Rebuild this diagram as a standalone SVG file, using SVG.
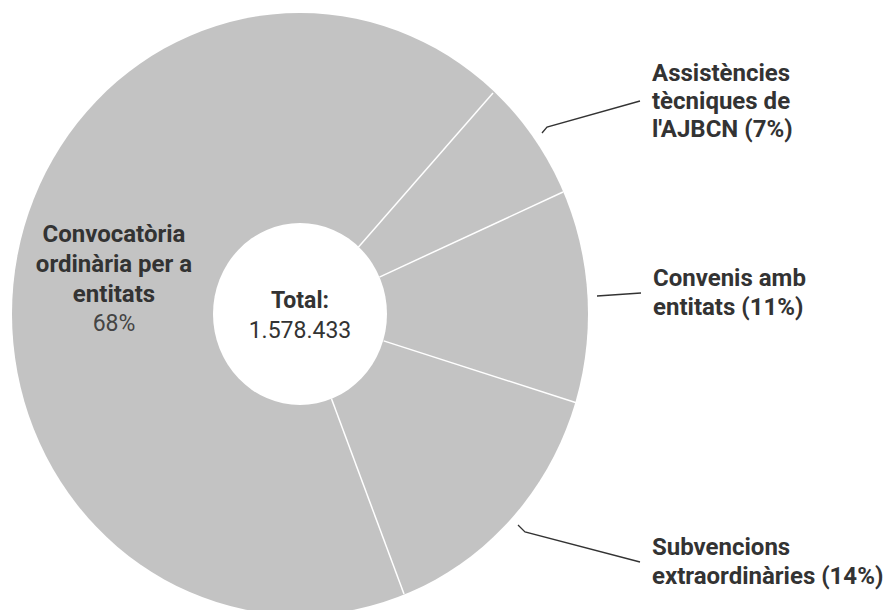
<svg xmlns="http://www.w3.org/2000/svg" width="890" height="610" viewBox="0 0 890 610">
<style>
.lbl{font-family:Roboto,"Liberation Sans",sans-serif;font-size:23px;fill:#333;}
.b{font-weight:bold;font-size:24px;}
.r{font-weight:normal;}
.sep{stroke:#ffffff;stroke-width:1.5;fill:none;}
.lead{stroke:#333;stroke-width:1.3;fill:none;}
</style>
<rect width="890" height="610" fill="#ffffff"/>
<g id="donut">
<ellipse cx="300" cy="314" rx="288" ry="301" fill="#c3c3c3"/>
<ellipse cx="300" cy="314" rx="87" ry="91" fill="#ffffff"/>
</g>
<g id="separators">
<line class="sep" x1="358.3" y1="247.2" x2="493" y2="93"/>
<line class="sep" x1="379.4" y1="277.1" x2="563" y2="192"/>
<line class="sep" x1="383.7" y1="340.9" x2="577" y2="403"/>
<line class="sep" x1="331.4" y1="398.6" x2="404" y2="594"/>
</g>
<g id="connectors">
<polyline class="lead" points="542,133 547,127 640,101"/>
<polyline class="lead" points="597,296 641,293"/>
<polyline class="lead" points="518,525 525,532 640,562"/>
</g>
<g id="node-total">
<text class="lbl b" x="300" y="308" text-anchor="middle" style="font-size:23px">Total:</text>
<text class="lbl r" x="300" y="338" text-anchor="middle">1.578.433</text>
</g>
<g id="node-convocatoria">
<text class="lbl b" x="114" y="242" text-anchor="middle">Convocatòria</text>
<text class="lbl b" x="114" y="272" text-anchor="middle">ordinària per a</text>
<text class="lbl b" x="114" y="302" text-anchor="middle">entitats</text>
<text class="lbl r" x="114" y="331" text-anchor="middle" style="fill:#444">68%</text>
</g>
<g id="node-assistencies">
<text class="lbl b" x="652" y="81">Assistències</text>
<text class="lbl b" x="652" y="109">tècniques de</text>
<text class="lbl b" x="652" y="137">l'AJBCN (7%)</text>
</g>
<g id="node-convenis">
<text class="lbl b" x="653" y="286">Convenis amb</text>
<text class="lbl b" x="653" y="315">entitats (11%)</text>
</g>
<g id="node-subvencions">
<text class="lbl b" x="652" y="555">Subvencions</text>
<text class="lbl b" x="652" y="584">extraordinàries (14%)</text>
</g>
</svg>
